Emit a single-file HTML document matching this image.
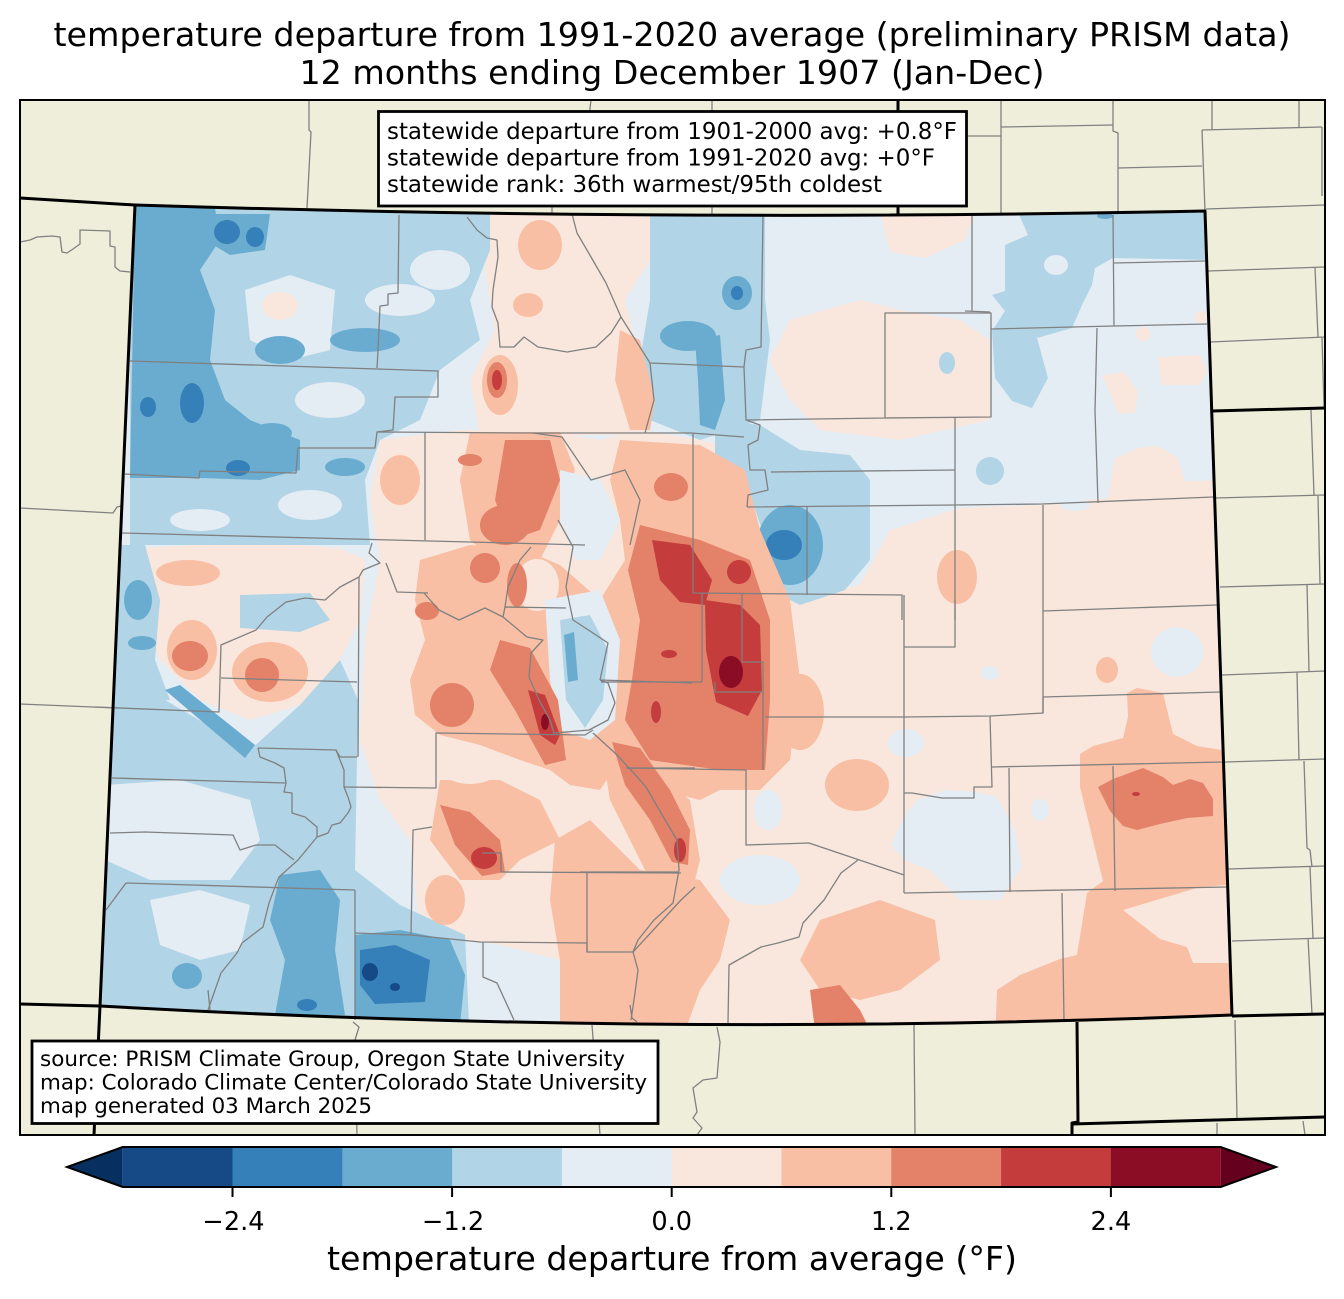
<!DOCTYPE html>
<html><head><meta charset="utf-8"><title>temperature departure</title>
<style>
html,body{margin:0;padding:0;background:#fff;}
svg{display:block;}
text{font-family:"DejaVu Sans","Liberation Sans",sans-serif;fill:#000;}
</style></head><body>
<svg width="1344" height="1299" viewBox="0 0 1344 1299" xmlns="http://www.w3.org/2000/svg">
<defs>
<clipPath id="co"><path d="M135,205 Q670,222 1205,211 L1232,1015 Q666,1038 100,1006 Z"/></clipPath>
<clipPath id="fr"><rect x="20" y="100" width="1305" height="1035"/></clipPath>
</defs>
<rect x="0" y="0" width="1344" height="1299" fill="#fff"/>
<rect x="20" y="100" width="1305" height="1035" fill="#efeedb"/>

<g clip-path="url(#co)">
<rect x="90" y="200" width="1160" height="850" fill="#e4edf4"/>
<!-- light pink -->
<g fill="#f9e7de">
<path d="M380,440 L460,430 L540,430 L600,440 L640,430 L700,440 L745,450 L745,560 L780,600 L860,585 L890,530 L960,508 L1040,505 L1108,498 L1115,458 L1138,448 L1158,446 L1178,458 L1185,481 L1240,480 L1245,1045 L560,1045 L560,960 L500,945 L470,940 L420,930 L410,840 L380,800 L360,740 L365,640 L380,560 L370,500 Z"/>
<path d="M490,212 L650,212 L650,260 L625,300 L640,360 L650,435 L480,435 L470,380 L495,330 L485,270 Z"/>
<path d="M790,320 L860,300 L900,310 L960,320 L990,340 L990,420 L900,440 L820,430 L790,400 L770,360 Z"/>
<path d="M880,212 L975,212 L965,240 L925,258 L890,252 Z"/>
<path d="M1158,357 L1200,355 L1207,372 L1200,385 L1162,385 Z"/>
<path d="M1102,375 L1125,372 L1138,392 L1135,413 L1118,413 Z"/>
<ellipse cx="1143" cy="334" rx="7" ry="7"/>
<ellipse cx="1201" cy="317" rx="6" ry="6"/>
<path d="M140,548 L250,542 L340,548 L365,560 L360,620 L330,680 L300,705 L250,720 L200,700 L160,660 L140,610 Z"/>
<path d="M95,935 L125,930 L130,990 L95,1000 Z"/>
</g>
<!-- light blue -->
<g fill="#b1d4e6">
<path d="M130,200 L490,200 L490,250 L470,300 L480,340 L440,370 L420,420 L380,440 L365,480 L370,545 L130,545 Z"/>
<path d="M95,700 L165,700 L250,750 L300,705 L340,660 L358,700 L355,870 L400,905 L465,935 L470,1045 L90,1045 Z"/>
<path d="M650,212 L765,212 L765,300 L770,340 L760,420 L700,440 L650,420 L640,360 L650,300 Z"/>
<path d="M1018,212 L1028,235 L1005,245 L1005,291 L992,295 L1005,311 L992,331 L995,378 L1012,401 L1032,408 L1048,378 L1037,338 L1072,328 L1082,305 L1092,285 L1095,268 L1113,258 L1210,260 L1210,205 L1113,205 Z"/>
<path d="M715,420 L760,425 L800,450 L850,455 L870,480 L870,560 L845,590 L800,605 L770,590 L762,530 L745,480 L715,460 Z"/>
<path d="M115,545 L145,545 L160,600 L155,660 L170,700 L110,705 Z"/>
<path d="M240,595 L310,593 L330,620 L300,632 L240,628 Z"/>
<ellipse cx="990" cy="471" rx="14" ry="14"/>
<ellipse cx="947" cy="363" rx="8" ry="11"/>
</g>
<!-- very light blue pockets -->
<g fill="#e4edf4">
<path d="M245,290 L290,275 L335,290 L330,350 L290,360 L250,340 Z"/>
<ellipse cx="440" cy="270" rx="30" ry="20"/>
<ellipse cx="400" cy="300" rx="35" ry="16"/>
<ellipse cx="330" cy="400" rx="35" ry="18"/>
<ellipse cx="310" cy="505" rx="32" ry="15"/>
<ellipse cx="200" cy="520" rx="30" ry="11"/>
<path d="M105,785 L180,780 L250,800 L260,840 L230,880 L150,880 L105,860 Z"/>
<path d="M150,900 L200,890 L250,905 L240,950 L200,960 L160,945 Z"/>
<ellipse cx="1056" cy="265" rx="12" ry="10"/>
<ellipse cx="1177" cy="652" rx="26" ry="25"/>
<path d="M891,845 L905,815 L917,800 L946,790 L975,792 L997,797 L1015,830 L1022,867 L1000,900 L960,900 L930,870 L905,860 Z"/>
<ellipse cx="906" cy="743" rx="18" ry="14"/>
<ellipse cx="760" cy="880" rx="40" ry="25"/>
<ellipse cx="768" cy="810" rx="14" ry="20"/>
<ellipse cx="1040" cy="810" rx="9" ry="11"/>
<ellipse cx="990" cy="673" rx="9" ry="7"/>
<ellipse cx="1075" cy="505" rx="15" ry="6"/>
</g>
<ellipse cx="280" cy="306" rx="18" ry="14" fill="#f9e7de"/>
<!-- medium blue -->
<g fill="#6aacd0">
<path d="M135,205 L215,208 L220,240 L200,270 L215,310 L210,360 L225,400 L250,420 L300,440 L300,470 L260,480 L200,478 L130,478 Z"/>
<path d="M205,214 L270,214 L265,250 L230,255 L205,240 Z"/>
<ellipse cx="280" cy="350" rx="25" ry="14"/>
<ellipse cx="365" cy="340" rx="35" ry="12"/>
<ellipse cx="272" cy="433" rx="20" ry="10"/>
<ellipse cx="345" cy="467" rx="20" ry="9"/>
<ellipse cx="737" cy="293" rx="15" ry="17"/>
<ellipse cx="688" cy="336" rx="28" ry="15"/>
<path d="M695,340 L720,335 L725,400 L715,430 L700,425 L698,380 Z"/>
<ellipse cx="790" cy="545" rx="33" ry="40"/>
<path d="M280,875 L320,870 L340,900 L335,950 L345,1015 L275,1015 L285,960 L270,920 Z"/>
<ellipse cx="187" cy="976" rx="15" ry="13"/>
<path d="M165,690 L180,685 L255,745 L245,758 Z"/>
<ellipse cx="138" cy="600" rx="14" ry="20"/>
<ellipse cx="142" cy="643" rx="14" ry="7"/>
<path d="M355,935 L400,930 L450,940 L465,975 L460,1025 L355,1025 Z"/>
<ellipse cx="1105" cy="216" rx="8" ry="3"/>
</g>
<!-- dark blue -->
<g fill="#3580b9">
<ellipse cx="227" cy="232" rx="13" ry="12"/>
<ellipse cx="255" cy="237" rx="9" ry="10"/>
<ellipse cx="192" cy="403" rx="12" ry="20"/>
<ellipse cx="148" cy="407" rx="8" ry="10"/>
<ellipse cx="238" cy="468" rx="12" ry="8"/>
<ellipse cx="737" cy="293" rx="6" ry="7"/>
<ellipse cx="784" cy="545" rx="18" ry="15"/>
<ellipse cx="307" cy="1005" rx="10" ry="6"/>
<path d="M360,950 L395,945 L430,960 L425,1002 L375,1004 L360,985 Z"/>
</g>
<g fill="#164a87">
<ellipse cx="370" cy="972" rx="8" ry="9"/>
<ellipse cx="395" cy="987" rx="5" ry="4"/>
</g>
<!-- salmon -->
<g fill="#f8bfa4">
<ellipse cx="540" cy="245" rx="22" ry="25"/>
<ellipse cx="528" cy="305" rx="15" ry="12"/>
<ellipse cx="500" cy="385" rx="18" ry="30"/>
<path d="M620,330 L640,340 L655,400 L650,430 L630,430 L615,380 Z"/>
<ellipse cx="188" cy="573" rx="32" ry="13"/>
<ellipse cx="192" cy="650" rx="25" ry="30"/>
<ellipse cx="270" cy="672" rx="38" ry="30"/>
<path d="M470,432 L560,432 L575,470 L560,520 L540,560 L500,565 L470,540 L460,480 Z"/>
<ellipse cx="400" cy="480" rx="20" ry="25"/>
<path d="M420,560 L470,545 L520,548 L560,565 L600,600 L625,560 L620,520 L610,480 L620,440 L700,445 L745,470 L760,530 L790,600 L800,680 L790,760 L760,790 L720,790 L700,800 L660,790 L620,760 L600,790 L570,785 L550,770 L520,760 L480,745 L440,735 L415,715 L410,680 L425,640 L415,600 Z"/>
<path d="M440,780 L500,780 L540,800 L560,840 L520,860 L500,880 L460,880 L430,840 Z"/>
<ellipse cx="445" cy="900" rx="20" ry="25"/>
<path d="M555,840 L590,820 L640,870 L700,880 L730,920 L720,960 L700,990 L680,1045 L560,1045 L560,960 L550,900 Z"/>
<path d="M600,740 L640,760 L690,800 L700,860 L690,900 L660,900 L640,860 L610,800 Z"/>
<path d="M1127,693 L1137,688 L1163,693 L1173,734 L1197,746 L1222,750 L1227,885 L1200,887 L1123,910 L1160,939 L1187,947 L1193,963 L1228,963 L1240,1000 L1240,1045 L995,1045 L997,990 L1020,975 L1060,959 L1077,955 L1087,893 L1103,881 L1097,857 L1090,828 L1080,787 L1080,754 L1093,746 L1123,738 L1128,717 Z"/>
<path d="M820,920 L880,900 L935,920 L940,960 L900,990 L860,1000 L820,990 L800,960 Z"/>
<ellipse cx="800" cy="712" rx="24" ry="38"/>
<ellipse cx="857" cy="785" rx="32" ry="26"/>
<ellipse cx="957" cy="577" rx="20" ry="27"/>
<ellipse cx="1107" cy="670" rx="11" ry="13"/>
</g>
<!-- central pale pockets -->
<g fill="#f9e7de">
<ellipse cx="537" cy="585" rx="22" ry="26"/>
<ellipse cx="470" cy="770" rx="28" ry="14"/>
</g>
<g fill="#e4edf4">
<path d="M545,600 L600,590 L620,640 L615,720 L590,740 L560,730 L550,680 Z"/>
<path d="M560,470 L600,480 L620,520 L600,560 L575,560 L560,520 Z"/>
</g>
<path d="M560,620 L590,615 L608,650 L603,700 L585,728 L566,700 Z" fill="#b1d4e6"/>
<path d="M564,635 L574,632 L578,680 L568,682 Z" fill="#6aacd0"/>
<!-- medium red -->
<g fill="#e38169">
<path d="M505,440 L550,440 L560,480 L540,530 L510,540 L495,500 Z"/>
<path d="M640,525 L700,540 L750,560 L770,620 L770,700 L765,770 L720,770 L650,760 L625,720 L632,680 L640,620 L628,570 Z"/>
<path d="M500,640 L530,648 L558,700 L566,760 L545,765 L515,710 L490,670 Z"/>
<ellipse cx="485" cy="568" rx="15" ry="15"/>
<ellipse cx="517" cy="585" rx="10" ry="22"/>
<ellipse cx="427" cy="611" rx="12" ry="9"/>
<ellipse cx="452" cy="705" rx="22" ry="22"/>
<path d="M612,742 L640,748 L670,790 L690,830 L688,865 L672,862 L650,820 L625,785 Z"/>
<path d="M440,805 L470,812 L500,840 L505,872 L482,876 L455,845 Z"/>
<ellipse cx="505" cy="525" rx="25" ry="20"/>
<ellipse cx="671" cy="487" rx="17" ry="14"/>
<ellipse cx="190" cy="656" rx="18" ry="15"/>
<ellipse cx="262" cy="675" rx="17" ry="17"/>
<path d="M1098,787 L1113,779 L1143,768 L1163,777 L1173,785 L1190,779 L1203,783 L1213,799 L1213,816 L1187,818 L1160,824 L1137,830 L1123,826 L1110,811 Z"/>
<path d="M810,990 L840,985 L860,1010 L870,1030 L815,1030 Z"/>
<ellipse cx="497" cy="380" rx="10" ry="18"/>
<ellipse cx="470" cy="460" rx="12" ry="6"/>
</g>
<!-- red -->
<g fill="#c43c3c">
<path d="M652,540 L690,545 L712,580 L705,605 L680,602 L660,580 Z"/>
<ellipse cx="739" cy="572" rx="12" ry="12"/>
<path d="M705,600 L740,605 L760,625 L762,690 L748,716 L716,702 L706,650 Z"/>
<path d="M528,690 L545,695 L560,735 L555,745 L540,735 Z"/>
<ellipse cx="484" cy="858" rx="13" ry="11"/>
<ellipse cx="497" cy="380" rx="5" ry="10"/>
<ellipse cx="680" cy="850" rx="6" ry="12"/>
<ellipse cx="669" cy="654" rx="8" ry="4"/>
<ellipse cx="656" cy="712" rx="5" ry="11"/>
<ellipse cx="1136" cy="794" rx="4" ry="2"/>
</g>
<g fill="#8b0c25">
<ellipse cx="731" cy="672" rx="12" ry="16"/>
<ellipse cx="545" cy="722" rx="4" ry="8"/>
</g>
</g>

<!-- gray county / outer lines -->
<g fill="none" stroke="#808080" stroke-width="1.3" clip-path="url(#fr)" stroke-linejoin="round">
<path d="M309,100 L309,130 L311,132 L307,208"/>
<path d="M591,100 L585,150 L552,206 L552,214"/>
<path d="M712,100 L712,214"/>
<path d="M20,242 L30,240 L37,237 L52,236 L60,237 L62,252 L67,253 L73,249 L80,244 L80,230 L110,231 L110,246 L115,247 L115,267 L120,271 L130,272"/>
<path d="M20,508 L113,513 L117,507 L121,506"/>
<path d="M20,704 L117,708"/>
<path d="M965,136 L1001,136"/>
<path d="M1001,100 L1001,215"/>
<path d="M1001,127 L1113,125"/>
<path d="M1113,100 L1113,131 L1118,133 L1118,211"/>
<path d="M1118,168 L1202,166"/>
<path d="M1212,100 L1212,130"/>
<path d="M1202,130 L1322,127"/>
<path d="M1202,130 L1205,211"/>
<path d="M1299,100 L1299,127"/>
<path d="M1322,127 L1322,196"/>
<path d="M1206,209 L1325,205"/>
<path d="M1208,271 L1325,267"/>
<path d="M1315,268 L1318,337"/>
<path d="M1210,342 L1325,337"/>
<path d="M1322,337 L1324,408"/>
<path d="M1311,410 L1314,495"/>
<path d="M1215,498 L1325,495"/>
<path d="M1318,496 L1320,584"/>
<path d="M1220,587 L1325,584"/>
<path d="M1307,584 L1309,671"/>
<path d="M1222,675 L1325,671"/>
<path d="M1297,672 L1299,760"/>
<path d="M1225,762 L1325,759"/>
<path d="M1304,761 L1307,848 L1310,850 L1312,867"/>
<path d="M1228,869 L1325,866"/>
<path d="M1310,867 L1313,938"/>
<path d="M1232,941 L1325,938"/>
<path d="M1308,938 L1312,1014"/>
<path d="M1235,1020 L1237,1119"/>
<path d="M1217,1123 L1217,1135"/>
<path d="M1303,1121 L1305,1135"/>
<path d="M353,1022 L359,1027 L355,1040 L357,1135"/>
<path d="M592,1025 L593,1038 L600,1135"/>
<path d="M717,1027 L720,1042 L717,1078 L703,1080 L693,1088 L697,1112 L693,1118 L702,1128 L697,1135"/>
<path d="M914,1025 L915,1135"/>
<!-- Colorado counties -->
<path d="M399,215 L398,293 L388,294 L388,305 L380,306 L378,350 L377,368"/>
<path d="M130,361 L377,369 L438,371 L438,397 L395,397 L393,430 L377,432 L375,448 L298,448 L296,473 L200,471 L199,478 L125,474"/>
<path d="M425,432 L425,540"/>
<path d="M377,432 L533,433 L691,433 L744,437"/>
<path d="M467,217 L477,230 L487,238 L497,240 L498,257 L493,290 L492,307 L498,323 L500,347 L514,347 L524,337 L538,347 L567,352 L596,347 L611,333 L621,317 L606,283 L591,257 L577,233 L572,214"/>
<path d="M621,317 L650,363 L744,367 L746,350 L761,347 L763,216"/>
<path d="M650,363 L654,400 L645,433"/>
<path d="M533,433 L562,437 L591,480 L625,470 L640,500 L630,545"/>
<path d="M693,433 L693,593 L902,595 L902,620"/>
<path d="M744,367 L746,420 L885,418 L991,417 L991,313 L885,313 L885,418"/>
<path d="M746,420 L760,425 L758,440 L748,445 L750,470 L765,470 L768,490 L748,495 L747,507"/>
<path d="M972,216 L972,311"/>
<path d="M965,311 L990,312"/>
<path d="M991,329 L1114,326 L1207,324"/>
<path d="M1113,215 L1114,326"/>
<path d="M1114,263 L1205,261"/>
<path d="M1097,328 L1095,411 L1098,503"/>
<path d="M955,418 L955,620"/>
<path d="M747,507 L955,505 L1042,504 L1213,497"/>
<path d="M771,472 L955,470"/>
<path d="M807,507 L807,595"/>
<path d="M1043,505 L1043,713"/>
<path d="M1043,611 L1217,605"/>
<path d="M904,595 L904,893"/>
<path d="M904,647 L955,647 L955,600"/>
<path d="M765,717 L904,717 L990,716 L1043,713 L1043,697 L1220,692"/>
<path d="M990,716 L992,787 L974,787 L974,798 L942,798 L912,793 L904,793"/>
<path d="M992,767 L1222,762"/>
<path d="M1009,768 L1010,892"/>
<path d="M1113,766 L1115,891"/>
<path d="M904,893 L1227,887"/>
<path d="M1062,893 L1064,1020"/>
<path d="M742,593 L742,662 L763,662 L763,770"/>
<path d="M702,593 L702,682 L601,682"/>
<path d="M715,682 L715,692 L763,692"/>
<path d="M626,768 L746,770 L746,845 L809,843 L904,875"/>
<path d="M858,860 L841,873 L824,900 L803,923 L799,937 L778,943 L761,947 L729,965 L728,1023"/>
<path d="M580,872 L679,872"/>
<path d="M122,533 L585,545"/>
<path d="M372,543 L369,553 L380,563 L363,570 L359,577 L340,587 L325,600 L305,598 L286,602 L267,617 L256,630 L221,645 L219,712 L95,707"/>
<path d="M221,678 L357,682"/>
<path d="M359,577 L358,757"/>
<path d="M258,748 L336,750 L340,757 L357,757"/>
<path d="M258,748 L260,757 L275,763 L284,768 L286,783 L112,778"/>
<path d="M286,783 L284,792 L292,793 L292,813 L305,817 L317,827 L317,837 L298,860 L279,877 L275,887 L269,903 L263,927 L242,943 L237,953 L221,973 L208,1010"/>
<path d="M110,833 L145,832 L233,835 L240,850 L256,845 L275,845 L294,860"/>
<path d="M126,883 L355,890"/>
<path d="M126,883 L106,910"/>
<path d="M355,890 L355,1020"/>
<path d="M355,933 L411,935 L413,830 L432,827"/>
<path d="M336,750 L344,770 L344,787 L348,797 L351,807 L348,813 L340,823 L332,825 L328,833 L317,837"/>
<path d="M344,787 L436,788 L436,733 L585,735 L593,730"/>
<path d="M482,853 L501,853 L501,872 L681,873"/>
<path d="M411,935 L480,942 L587,943 L587,952 L633,952"/>
<path d="M483,942 L483,977 L497,983 L514,1020"/>
<path d="M587,873 L587,952"/>
<path d="M633,952 L638,970 L635,993 L631,1020"/>
<path d="M633,952 L681,900 L695,887"/>
<path d="M424,593 L439,610 L459,620 L485,608 L503,617 L527,637 L543,640 L531,653 L529,677 L539,700 L550,720 L554,733 L589,730 L608,720 L615,703 L608,683 L600,680"/>
<path d="M600,680 L692,683"/>
<path d="M600,680 L608,643 L593,633 L573,620 L566,587 L573,547 L558,520"/>
<path d="M503,617 L505,607 L566,608"/>
<path d="M505,607 L508,587 L520,560 L531,547"/>
<path d="M386,563 L397,592 L428,593"/>
<path d="M593,733 L615,753 L631,770 L646,787 L661,813 L677,840 L679,870 L673,903 L654,920 L638,940 L633,952"/>
<path d="M627,768 L695,768"/>
<path d="M630,1005 L632,1018 L637,1022"/>
<path d="M208,990 L210,1010"/>
</g>

<!-- black state borders -->
<g fill="none" stroke="#000" stroke-width="3" clip-path="url(#fr)" stroke-linejoin="round">
<path d="M135,205 Q670,222 1205,211 L1232,1015 Q666,1038 100,1006 Z"/>
<path d="M20,198 L135,205"/>
<path d="M898,100 L898,214"/>
<path d="M1212,411 L1325,408"/>
<path d="M1232,1016 L1325,1014"/>
<path d="M1077,1022 L1078,1122 L1072,1123 L1072,1135"/>
<path d="M1072,1124 L1325,1117"/>
<path d="M20,1004 L100,1006"/>
<path d="M100,1006 L94,1135"/>
</g>
<rect x="20" y="100" width="1305" height="1035" fill="none" stroke="#000" stroke-width="2"/>

<!-- info box -->
<rect x="378.5" y="111.5" width="588" height="94.5" fill="#fff" stroke="#000" stroke-width="2.8"/>
<g font-size="22.9">
<text x="387" y="139" textLength="570" lengthAdjust="spacingAndGlyphs">statewide departure from 1901-2000 avg: +0.8°F</text>
<text x="387" y="165.5" textLength="548" lengthAdjust="spacingAndGlyphs">statewide departure from 1991-2020 avg: +0°F</text>
<text x="387" y="192" textLength="495" lengthAdjust="spacingAndGlyphs">statewide rank: 36th warmest/95th coldest</text>
</g>

<!-- source box -->
<rect x="32" y="1041" width="626" height="82.5" fill="#fff" stroke="#000" stroke-width="2.8"/>
<g font-size="21.4">
<text x="40" y="1066" textLength="585" lengthAdjust="spacingAndGlyphs">source: PRISM Climate Group, Oregon State University</text>
<text x="40" y="1089.5" textLength="607" lengthAdjust="spacingAndGlyphs">map: Colorado Climate Center/Colorado State University</text>
<text x="40" y="1113" textLength="332" lengthAdjust="spacingAndGlyphs">map generated 03 March 2025</text>
</g>

<!-- title -->
<g font-size="33.2" text-anchor="middle">
<text x="672" y="46" textLength="1237" lengthAdjust="spacingAndGlyphs">temperature departure from 1991-2020 average (preliminary PRISM data)</text>
<text x="672" y="84" textLength="745" lengthAdjust="spacingAndGlyphs">12 months ending December 1907 (Jan-Dec)</text>
</g>

<!-- colorbar -->
<g>
<polygon points="122.7,1147 67,1167 122.7,1187" fill="#072f5f"/>
<rect x="122.7" y="1147" width="110.3" height="40" fill="#164a87"/>
<rect x="232.5" y="1147" width="110.3" height="40" fill="#3580b9"/>
<rect x="342.3" y="1147" width="110.3" height="40" fill="#6aacd0"/>
<rect x="452.1" y="1147" width="110.3" height="40" fill="#b1d4e6"/>
<rect x="561.9" y="1147" width="110.3" height="40" fill="#e4edf4"/>
<rect x="671.7" y="1147" width="110.3" height="40" fill="#f9e7de"/>
<rect x="781.5" y="1147" width="110.3" height="40" fill="#f8bfa4"/>
<rect x="891.3" y="1147" width="110.3" height="40" fill="#e38169"/>
<rect x="1001.1" y="1147" width="110.3" height="40" fill="#c43c3c"/>
<rect x="1110.9" y="1147" width="109.8" height="40" fill="#8b0c25"/>
<polygon points="1220.7,1147 1276,1167 1220.7,1187" fill="#66001f"/>
<path d="M122.7,1147 L1220.7,1147 L1276,1167 L1220.7,1187 L122.7,1187 L67,1167 Z" fill="none" stroke="#000" stroke-width="2"/>
<g stroke="#000" stroke-width="2">
<line x1="232.5" y1="1187" x2="232.5" y2="1197"/>
<line x1="452.1" y1="1187" x2="452.1" y2="1197"/>
<line x1="671.7" y1="1187" x2="671.7" y2="1197"/>
<line x1="891.3" y1="1187" x2="891.3" y2="1197"/>
<line x1="1110.9" y1="1187" x2="1110.9" y2="1197"/>
</g>
<g font-size="25.6" text-anchor="middle">
<text x="233.5" y="1230">−2.4</text>
<text x="453.1" y="1230">−1.2</text>
<text x="671.7" y="1230">0.0</text>
<text x="891.3" y="1230">1.2</text>
<text x="1110.9" y="1230">2.4</text>
</g>
<text x="672" y="1270" font-size="33.2" text-anchor="middle" textLength="690" lengthAdjust="spacingAndGlyphs">temperature departure from average (°F)</text>
</g>
</svg>
</body></html>
